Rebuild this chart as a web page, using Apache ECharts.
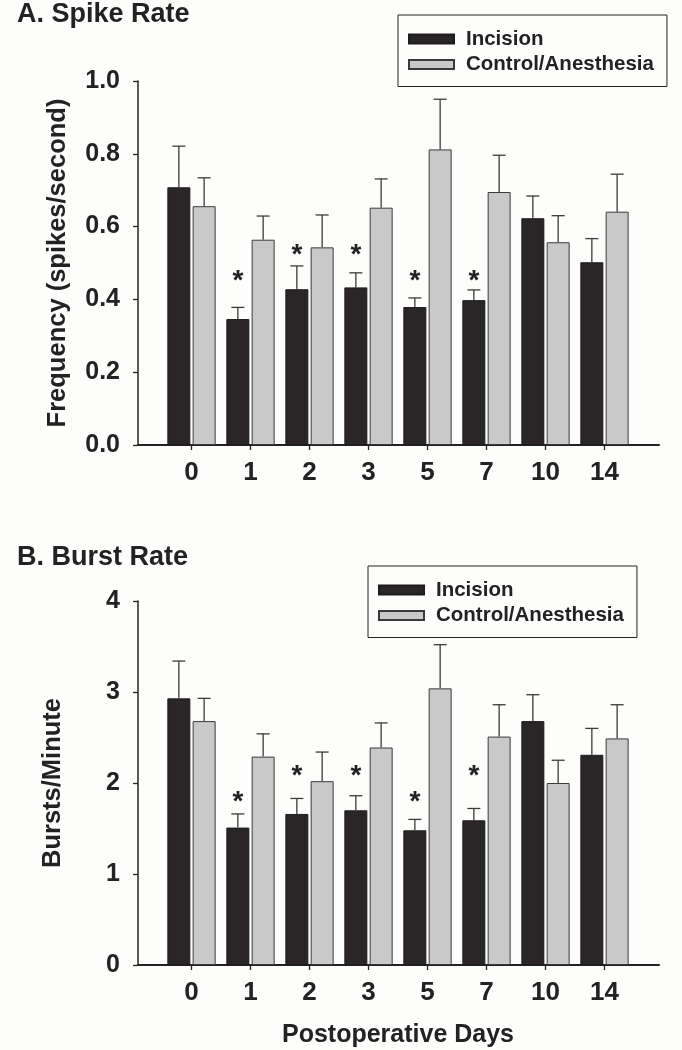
<!DOCTYPE html>
<html>
<head>
<meta charset="utf-8">
<script src="https://cdn.jsdelivr.net/npm/echarts@6/dist/echarts.min.js"></script>
<style>
  html, body { margin: 0; padding: 0; background: #fdfdfb; }
  #chart { width: 682px; height: 1050px; }
</style>
</head>
<body>
<div id="chart"></div>
<script>
// postoperative days
const days = ['0', '1', '2', '3', '5', '7', '10', '14'];

// A. spike rate (spikes/second), mean and SEM
const spikeIncision = [0.708, 0.346, 0.428, 0.433, 0.379, 0.398, 0.623, 0.502];
const spikeIncisionSem = [0.113, 0.032, 0.064, 0.040, 0.025, 0.028, 0.061, 0.065];
const spikeControl = [0.656, 0.564, 0.543, 0.652, 0.812, 0.695, 0.557, 0.641];
const spikeControlSem = [0.078, 0.065, 0.089, 0.079, 0.138, 0.101, 0.073, 0.103];
const spikeStars = [null, 0.472, 0.542, 0.542, 0.472, 0.472, null, null];

// B. burst rate (bursts/minute), mean and SEM
const burstIncision = [2.93, 1.51, 1.66, 1.70, 1.48, 1.59, 2.68, 2.31];
const burstIncisionSem = [0.41, 0.15, 0.17, 0.16, 0.12, 0.13, 0.29, 0.29];
const burstControl = [2.68, 2.29, 2.02, 2.39, 3.04, 2.51, 2.00, 2.49];
const burstControlSem = [0.25, 0.25, 0.32, 0.27, 0.48, 0.35, 0.25, 0.37];
const burstStars = [null, 1.88, 2.16, 2.16, 1.88, 2.16, null, null];

const font = "'Liberation Sans', Arial, sans-serif";
const ink = '#222';
const dark = '#2a2627';
const light = '#c9c9c9';
const BAR_W = 23;
const OFF = 12.65; // half of bar width + gap

function errData(mean, sem) {
  return mean.map((m, i) => [i, m, +(m + sem[i]).toFixed(3)]);
}

function errRender(off) {
  return function (params, api) {
    const x = api.coord([api.value(0), 0])[0] + off;
    const base = api.coord([api.value(0), api.value(1)])[1];
    const top = api.coord([api.value(0), api.value(2)])[1];
    const st = { stroke: '#3a3a3a', lineWidth: 1.3 };
    return {
      type: 'group',
      children: [
        { type: 'line', shape: { x1: x, y1: base, x2: x, y2: top }, style: st },
        { type: 'line', shape: { x1: x - 6.5, y1: top, x2: x + 6.5, y2: top }, style: st }
      ]
    };
  };
}

function starRender(params, api) {
  const p = api.coord([api.value(0), api.value(1)]);
  return {
    type: 'text',
    x: p[0] - OFF,
    y: p[1] + 8,
    style: {
      text: '*', fill: ink, font: 'bold 28px ' + font,
      align: 'center', verticalAlign: 'middle'
    }
  };
}

function starData(arr) {
  const out = [];
  arr.forEach((v, i) => { if (v != null) out.push([i, v]); });
  return out;
}

function panelSeries(xi, inc, incSem, ctl, ctlSem, stars) {
  return [
    {
      name: 'Incision', type: 'bar', xAxisIndex: xi, yAxisIndex: xi,
      data: inc, barWidth: BAR_W, barGap: '10%',
      itemStyle: { color: dark, borderColor: '#1e1b1c', borderWidth: 1 }
    },
    {
      name: 'Control/Anesthesia', type: 'bar', xAxisIndex: xi, yAxisIndex: xi,
      data: ctl, barWidth: BAR_W, barGap: '10%',
      itemStyle: { color: light, borderColor: '#3a3a3a', borderWidth: 1 }
    },
    {
      type: 'custom', xAxisIndex: xi, yAxisIndex: xi, z: 3,
      renderItem: errRender(-OFF), data: errData(inc, incSem),
      encode: { x: 0, y: 2 }, silent: true
    },
    {
      type: 'custom', xAxisIndex: xi, yAxisIndex: xi, z: 3,
      renderItem: errRender(OFF), data: errData(ctl, ctlSem),
      encode: { x: 0, y: 2 }, silent: true
    },
    {
      type: 'custom', xAxisIndex: xi, yAxisIndex: xi, z: 4,
      renderItem: starRender, data: starData(stars),
      encode: { x: 0, y: 1 }, silent: true
    }
  ];
}

function frameX(gi) {
  return {
    gridIndex: gi, type: 'value', min: 0, max: 1,
    axisLine: { show: true, onZero: false, lineStyle: { color: ink, width: 2 } },
    axisTick: { show: false }, axisLabel: { show: false }, splitLine: { show: false }
  };
}

function frameY(gi, max, step, name, gap, fmt) {
  return {
    gridIndex: gi, type: 'value', min: 0, max: max, interval: step,
    name: name, nameLocation: 'middle', nameGap: gap, nameMoveOverlap: false,
    nameTextStyle: { fontFamily: font, fontWeight: 'bold', fontSize: 25.5, color: ink },
    axisLine: { show: true, lineStyle: { color: ink, width: 1.5 } },
    axisTick: { show: true, length: 5, lineStyle: { color: ink, width: 1.3 } },
    axisLabel: {
      margin: 18, color: ink, fontFamily: font, fontWeight: 'bold', fontSize: 25,
      formatter: fmt
    },
    splitLine: { show: false }
  };
}

function barsX(gi, name) {
  return {
    gridIndex: gi, type: 'category', data: days,
    name: name || '', nameLocation: 'middle', nameGap: 58,
    nameTextStyle: { fontFamily: font, fontWeight: 'bold', fontSize: 25, color: ink },
    axisLine: { show: false },
    axisTick: { show: true, alignWithLabel: true, length: 5, lineStyle: { color: ink, width: 1.3 } },
    axisLabel: { margin: 15, color: ink, fontFamily: font, fontWeight: 'bold', fontSize: 26 }
  };
}

function barsY(gi, max) {
  return { gridIndex: gi, type: 'value', min: 0, max: max, show: false };
}

function legendAt(left, top) {
  return {
    orient: 'vertical', left: left, top: top,
    data: ['Incision', 'Control/Anesthesia'],
    icon: 'rect', itemWidth: 45, itemHeight: 9, itemGap: 4.5,
    borderColor: ink, borderWidth: 1, padding: [13.5, 13, 11.5, 10],
    textStyle: { fontFamily: font, fontWeight: 'bold', fontSize: 20.5, color: ink, padding: [0, 0, 0, 7] }
  };
}

const chart = echarts.init(document.getElementById('chart'));
chart.setOption({
  backgroundColor: '#fdfdfb',
  animation: false,
  title: [
    { text: 'A. Spike Rate', left: 17, top: 1, padding: 0,
      textStyle: { fontFamily: font, fontWeight: 'bold', fontSize: 27, color: ink } },
    { text: 'B. Burst Rate', left: 17, top: 544, padding: 0,
      textStyle: { fontFamily: font, fontWeight: 'bold', fontSize: 27, color: ink } }
  ],
  legend: [legendAt(398, 15), legendAt(368, 566)],
  grid: [
    { left: 138, top: 81, width: 521, height: 364, outerBoundsMode: 'none' },
    { left: 162, top: 81, width: 472, height: 364, outerBoundsMode: 'none' },
    { left: 138, top: 601, width: 521, height: 364, outerBoundsMode: 'none' },
    { left: 162, top: 601, width: 472, height: 364, outerBoundsMode: 'none' }
  ],
  xAxis: [frameX(0), barsX(1), frameX(2), barsX(3, 'Postoperative Days')],
  yAxis: [
    frameY(0, 1, 0.2, 'Frequency (spikes/second)', 67, v => v.toFixed(1)),
    barsY(1, 1),
    frameY(2, 4, 1, 'Bursts/Minute', 72, v => String(v)),
    barsY(3, 4)
  ],
  series: [].concat(
    panelSeries(1, spikeIncision, spikeIncisionSem, spikeControl, spikeControlSem, spikeStars),
    panelSeries(3, burstIncision, burstIncisionSem, burstControl, burstControlSem, burstStars)
  )
});
</script>
</body>
</html>
